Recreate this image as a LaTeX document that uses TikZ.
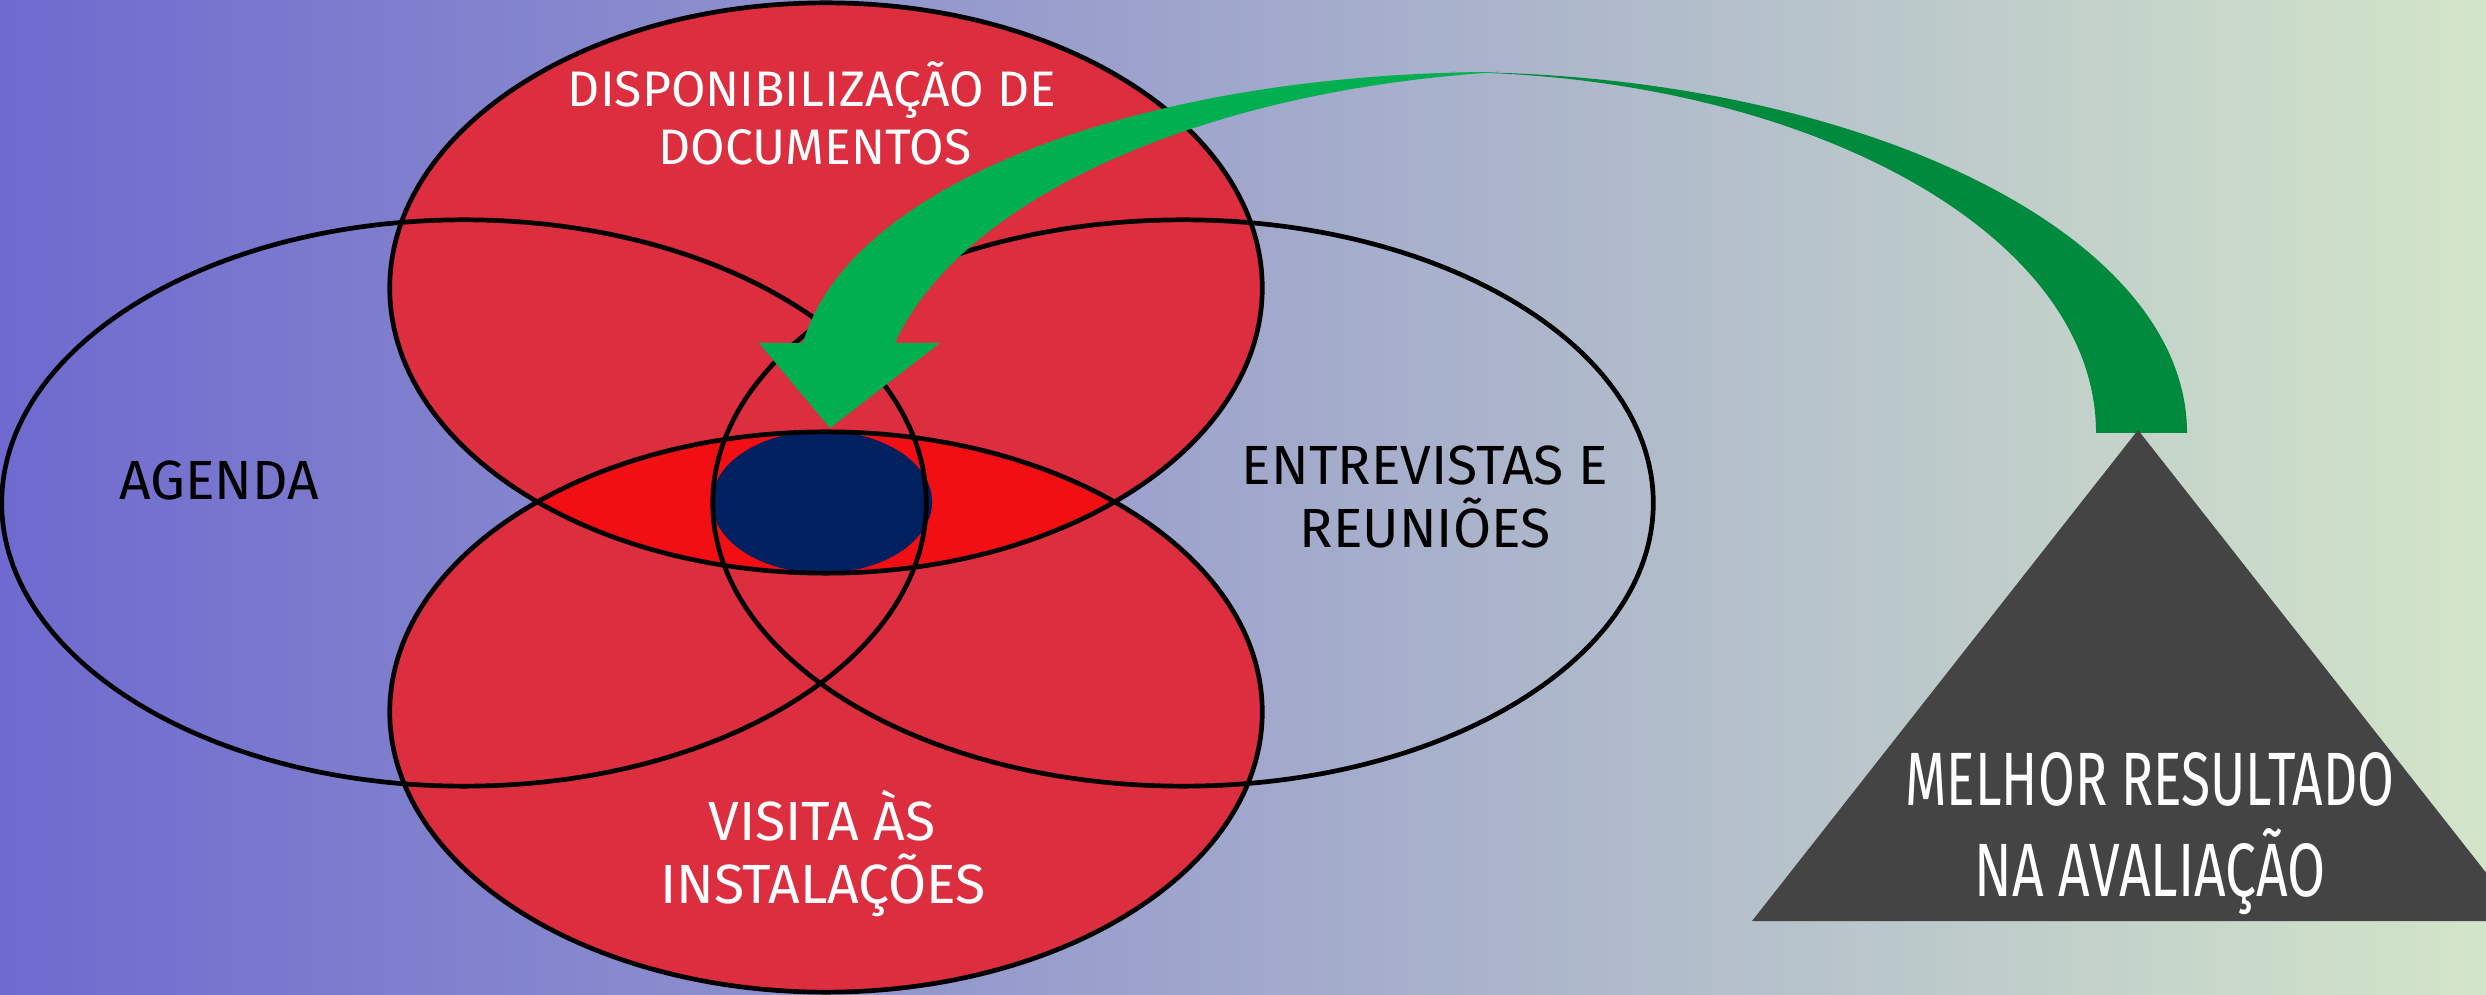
\documentclass[tikz,border=0pt]{standalone}
\usepackage{fontspec}
\setmainfont{Fira Sans}
\usepackage{graphicx}
\definecolor{bgL}{RGB}{110,106,207}
\definecolor{bgR}{RGB}{211,229,201}
\definecolor{vennred}{RGB}{221,46,64}
\definecolor{lensred}{RGB}{242,15,20}
\definecolor{navy}{RGB}{0,32,96}
\definecolor{greenfront}{RGB}{0,176,80}
\definecolor{greenback}{RGB}{0,138,62}
\definecolor{trigray}{RGB}{68,68,68}
\begin{document}
\begin{tikzpicture}[x=0.01cm,y=-0.01cm,
  outl/.style={draw=black,line width=0.047cm},
  lbl/.style={anchor=base,inner sep=0pt,font=\fontsize{15.7}{18}\selectfont},
  wlbl/.style={lbl,text=white},
  toplbl/.style={wlbl,font=\fontsize{14.2}{17}\selectfont},
  trilbl/.style={anchor=base,inner sep=0pt,text=white,font=\fontsize{21.5}{24}\selectfont}]
\useasboundingbox (0,0) rectangle (2486,995);
\begin{scope}
\clip (0,0) rectangle (2486,995);
\shade[left color=bgL,right color=bgR] (0,0) rectangle (2486,995);
\coordinate (cL) at (464,503);
\coordinate (cR) at (1183,503);
\coordinate (cT) at (826,288);
\coordinate (cB) at (826,712);
\coordinate (cN) at (822,502);
% red ellipses
\fill[vennred] (cT) ellipse [x radius=4.36cm, y radius=2.85cm];
\fill[vennred] (cB) ellipse [x radius=4.36cm, y radius=2.80cm];
\begin{scope}
\clip (cT) ellipse [x radius=4.36cm, y radius=2.85cm];
\fill[lensred] (cB) ellipse [x radius=4.36cm, y radius=2.80cm];
\end{scope}
\fill[navy] (cN) ellipse [x radius=1.10cm, y radius=0.71cm];
% outlines
\draw[outl] (cL) ellipse [x radius=4.62cm, y radius=2.83cm];
\draw[outl] (cR) ellipse [x radius=4.70cm, y radius=2.83cm];
\draw[outl] (cT) ellipse [x radius=4.36cm, y radius=2.85cm];
\draw[outl] (cB) ellipse [x radius=4.36cm, y radius=2.80cm];
% curved arrow: back band
\coordinate (tailIn) at (2096,433);
\coordinate (tailOut) at (2187,433);
\coordinate (topBack) at (1450,72);
\coordinate (topFront) at (1500,72);
\fill[greenback] (tailIn) .. controls (2096,230) and (1800,75) .. (topBack)
  .. controls (1850,72) and (2187,230) .. (tailOut) -- cycle;
% front band with head
\coordinate (headL) at (759,343);
\coordinate (headR) at (940,343);
\coordinate (tip) at (830,428);
\fill[greenfront] (topFront) .. controls (1150,72) and (850,180) .. (803,343)
  -- (headL) -- (tip) -- (headR) -- (895,343)
  .. controls (960,200) and (1200,90) .. (topFront) -- cycle;
% triangle
\coordinate (apex) at (2138,430);
\fill[trigray] (apex) -- (1752,921) -- (2524,921) -- cycle;
\end{scope}
% labels
\node[toplbl] (disp1) at (812,107) {DISPONIBILIZAÇÃO DE};
\node[toplbl] (disp2) at (815,165) {DOCUMENTOS};
\node[lbl] (agenda) at (219,500) {AGENDA};
\node[lbl] (entrev1) at (1425,485) {ENTREVISTAS E};
\node[lbl] (entrev2) at (1425,548) {REUNIÕES};
\node[wlbl] (visita1) at (822,840) {VISITA ÀS};
\node[wlbl] (visita2) at (823,903) {INSTALAÇÕES};
\node[trilbl] (melhor1) at (2150,805) {\resizebox{4.89cm}{\height}{MELHOR RESULTADO}};
\node[trilbl] (melhor2) at (2150,896) {\resizebox{3.51cm}{\height}{NA AVALIAÇÃO}};
\end{tikzpicture}
\end{document}
